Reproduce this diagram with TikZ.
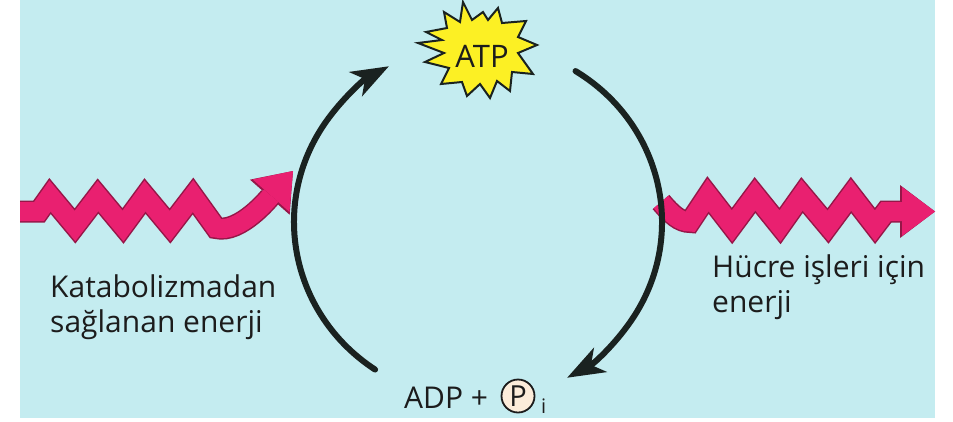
\documentclass[tikz,border=0pt]{standalone}
\usepackage{fontspec}
\setmainfont{Open Sans}
\usetikzlibrary{arrows.meta,calc}

\definecolor{bgcyan}{RGB}{196,236,240}
\definecolor{pinkc}{RGB}{233,32,112}
\definecolor{pinkedge}{RGB}{150,22,72}
\definecolor{arcc}{RGB}{26,34,32}
\definecolor{burstc}{RGB}{252,240,36}
\definecolor{txtc}{RGB}{28,28,28}
\definecolor{phosc}{RGB}{252,236,218}

\tikzset{
  energy/.style = {line width = 19pt, draw = pinkc, line join = miter, miter limit = 20,
    -{Triangle[length = 33pt, width = 49pt, line width = 0pt]}},
  energyedge/.style = {line width = 22pt, draw = pinkedge, line join = miter, miter limit = 20,
    -{Triangle[length = 35pt, width = 53pt, line width = 0pt]}},
  cyc/.style = {line width = 6pt, draw = arcc, line cap = round,
    -{Stealth[length = 38pt, width = 28pt, inset = 11pt, line width = 0pt]}},
  burst/.style = {fill = burstc, draw = arcc, line width = 2pt, line join = miter},
  lbl/.style = {inner sep = 0pt, text = txtc, align = left, font = \fontsize{30}{35}\selectfont},
}

\begin{document}
\begin{tikzpicture}[x = 1pt, y = -1pt]
    \useasboundingbox (0, 0) rectangle (953, 421);
    \fill[white] (0, 0) rectangle (953, 421);
    \fill[bgcyan] (20, 0) rectangle (935, 418);

    % energy in / energy out
    \coordinate (kin) at (20, 211.5);
    \coordinate (kout) at (293, 171);
    \coordinate (hin) at (661, 202);
    \coordinate (hout) at (935, 211.5);
    \foreach \s in {energyedge, energy}{
        \draw[\s] (kin) -- (39, 211.5) -- (50, 196) -- (75, 226) -- (98, 196) -- (123, 226)
            -- (145, 196) -- (170, 226) -- (193, 196) -- (216, 228)
            .. controls (240, 234) and (270, 197) .. (kout);
        \draw[\s] (hin) .. controls (672, 215) and (680, 222) .. (690, 222) -- (708, 195)
            -- (732, 226) -- (755, 195) -- (780, 226) -- (802, 195) -- (828, 226)
            -- (851, 195) -- (875, 226) -- (886, 211.5) -- (hout);
    }

    % ATP / ADP cycle
    \coordinate (ctr) at (478, 222);
    \coordinate (l0) at ($(ctr) + (236:184pt and 178pt)$);
    \coordinate (r0) at ($(ctr) + (58:184pt and 178pt)$);
    \draw[cyc] (l0) arc[start angle = 236, end angle = 119, x radius = 184pt, y radius = 178pt];
    \draw[cyc] (r0) arc[start angle = 58, end angle = -61, x radius = 184pt, y radius = 178pt];

    \filldraw[burst] (463, 2) -- (472, 20) -- (483, 12) -- (488, 20) -- (498, 8) -- (502, 23)
        -- (526, 21) -- (518, 37) -- (537, 45) -- (518, 53) -- (533, 74) -- (512, 72)
        -- (510, 91) -- (497, 81) -- (490, 98) -- (480, 84) -- (467, 96) -- (462, 82)
        -- (441, 84) -- (449, 68) -- (425, 62) -- (444, 53) -- (418, 43) -- (442, 40)
        -- (426, 32) -- (447, 28) -- (444, 12) -- (460, 22) -- cycle;
    \node[lbl, anchor = base, font = \fontsize{31}{35}\selectfont] (atp) at (482, 67) {ATP};

    \node[lbl, anchor = base west] (adp) at (404, 408) {ADP +};
    \node[circle, draw = txtc, line width = 1.8pt, fill = phosc, minimum size = 33pt,
        inner sep = 0pt, font = \fontsize{29}{30}\selectfont, text = txtc] (phos) at (518, 396) {P};
    \node[lbl, anchor = base west, font = \fontsize{20}{24}\selectfont] (sub) at (541, 413) {i};

    \node[lbl, anchor = base west] (kat) at (50, 332) {Katabolizmadan\\sağlanan enerji};
    \node[lbl, anchor = base west] (huc) at (712, 312) {Hücre işleri için\\enerji};
\end{tikzpicture}
\end{document}
